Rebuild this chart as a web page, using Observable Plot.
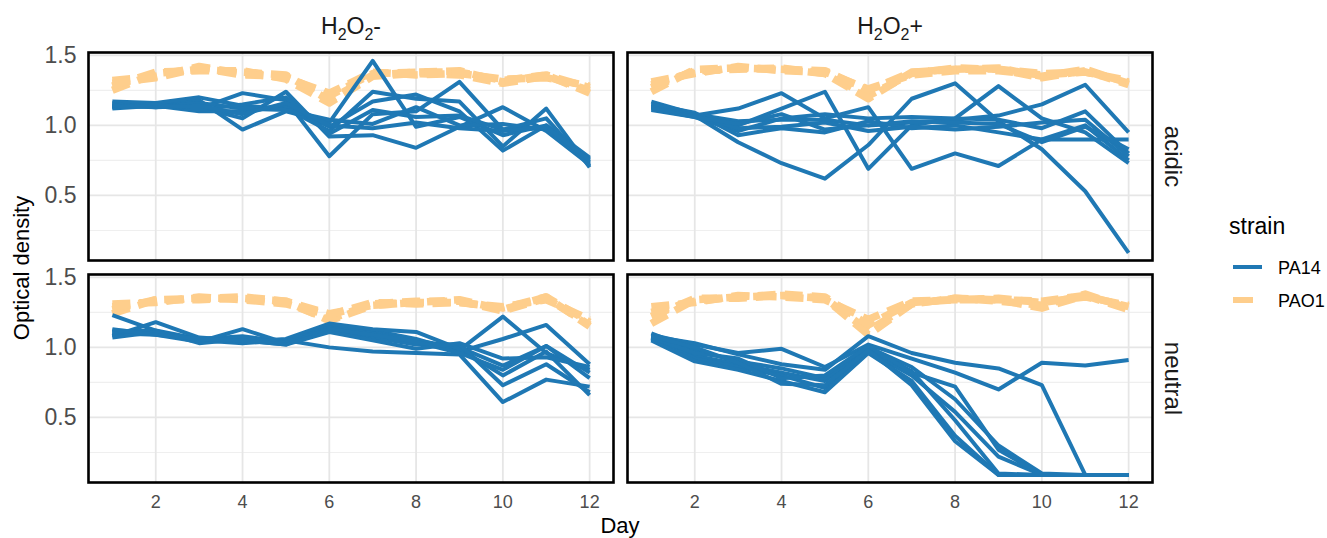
<!DOCTYPE html>
<html>
<head>
<meta charset="utf-8">
<script src="https://cdn.jsdelivr.net/npm/d3@7"></script>
<script src="https://cdn.jsdelivr.net/npm/@observablehq/plot@0.6"></script>
<style>
  body { margin: 0; background: #fff; }
  #wrap { position: relative; width: 1327px; height: 538px; font-family: "Liberation Sans", Arial, sans-serif; }
  #wrap svg { position: absolute; left: 0; top: 0; }
  .lab { position: absolute; white-space: nowrap; color: #000; line-height: 1; }
</style>
</head>
<body>
<div id="wrap"></div>
<script>
// ---------- data ----------
const days = [1, 2, 3, 4, 5, 6, 7, 8, 9, 10, 11, 12];
const treatments = ["H2O2-", "H2O2+"];
const conditions = ["acidic", "neutral"];
const strains = ["PA14", "PAO1"];
const xTicks = [2, 4, 6, 8, 10, 12];
const yTicks = [0.5, 1.0, 1.5];
const yMinor = [0.25, 0.75, 1.25];

const acidicMinusPA14 = [
  [1.16, 1.15, 1.18, 0.97, 1.10, 1.02, 1.46, 0.99, 1.06, 0.93, 1.00, 0.74],
  [1.13, 1.14, 1.12, 1.23, 1.18, 0.78, 1.08, 1.10, 1.31, 0.97, 0.98, 0.76],
  [1.14, 1.15, 1.13, 1.05, 1.24, 0.92, 0.93, 0.84, 0.99, 1.13, 0.96, 0.72],
  [1.17, 1.16, 1.20, 1.14, 1.12, 0.96, 1.24, 1.19, 1.17, 0.85, 1.12, 0.70],
  [1.12, 1.14, 1.10, 1.10, 1.14, 0.99, 1.17, 1.22, 1.10, 0.82, 1.00, 0.77],
  [1.15, 1.13, 1.16, 1.12, 1.11, 1.04, 1.01, 1.13, 1.00, 1.01, 0.97, 0.73],
  [1.13, 1.15, 1.11, 1.15, 1.20, 0.94, 1.11, 1.06, 1.07, 0.97, 1.05, 0.71],
  [1.14, 1.13, 1.14, 1.08, 1.16, 1.00, 0.98, 1.02, 0.98, 0.96, 0.99, 0.75]
];
const acidicMinusPAO1 = [
  [1.25, 1.37, 1.40, 1.38, 1.36, 1.18, 1.36, 1.38, 1.39, 1.31, 1.36, 1.23],
  [1.32, 1.35, 1.42, 1.37, 1.34, 1.23, 1.38, 1.36, 1.37, 1.33, 1.34, 1.28],
  [1.28, 1.38, 1.39, 1.39, 1.33, 1.16, 1.35, 1.37, 1.36, 1.30, 1.35, 1.25],
  [1.30, 1.34, 1.41, 1.36, 1.35, 1.21, 1.37, 1.38, 1.38, 1.32, 1.36, 1.27]
];
const acidicPlusPA14 = [
  [1.15, 1.07, 0.88, 0.73, 0.62, 0.86, 1.19, 1.30, 1.03, 0.83, 0.53, 0.09],
  [1.14, 1.08, 1.00, 1.12, 1.24, 0.69, 1.00, 1.05, 1.28, 1.05, 0.95, 0.73],
  [1.13, 1.07, 1.12, 1.23, 1.05, 1.13, 0.69, 0.80, 0.71, 0.90, 1.00, 0.75],
  [1.17, 1.08, 1.03, 1.04, 1.04, 1.00, 1.02, 1.04, 1.07, 1.15, 1.29, 0.95],
  [1.11, 1.06, 0.96, 1.05, 1.08, 1.05, 1.06, 1.05, 1.04, 0.98, 1.10, 0.80],
  [1.15, 1.09, 0.93, 0.98, 0.95, 1.03, 0.98, 1.00, 0.95, 0.90, 0.90, 0.90],
  [1.13, 1.07, 0.98, 0.99, 1.02, 0.96, 0.99, 0.97, 0.99, 1.02, 1.04, 0.78],
  [1.12, 1.06, 1.01, 1.08, 0.97, 1.00, 1.03, 1.02, 1.01, 0.88, 0.99, 0.83]
];
const acidicPlusPAO1 = [
  [1.24, 1.40, 1.41, 1.40, 1.37, 1.19, 1.38, 1.40, 1.41, 1.35, 1.40, 1.30],
  [1.31, 1.37, 1.42, 1.39, 1.38, 1.26, 1.36, 1.39, 1.39, 1.36, 1.38, 1.32],
  [1.27, 1.39, 1.40, 1.41, 1.37, 1.21, 1.37, 1.41, 1.40, 1.34, 1.39, 1.29],
  [1.29, 1.38, 1.41, 1.40, 1.39, 1.25, 1.38, 1.40, 1.40, 1.37, 1.38, 1.31]
];
const neutralMinusPA14 = [
  [1.23, 1.12, 1.06, 1.08, 1.04, 1.12, 1.08, 1.03, 0.98, 1.22, 0.96, 0.84],
  [1.08, 1.18, 1.07, 1.05, 1.02, 1.16, 1.12, 1.06, 0.97, 1.06, 1.16, 0.88],
  [1.10, 1.09, 1.04, 1.13, 1.03, 1.15, 1.10, 1.05, 1.00, 0.87, 1.01, 0.82],
  [1.12, 1.11, 1.05, 1.03, 1.05, 1.00, 0.97, 0.96, 0.95, 0.61, 0.77, 0.72],
  [1.09, 1.10, 1.06, 1.04, 1.06, 1.17, 1.13, 1.11, 0.99, 0.80, 0.97, 0.66],
  [1.11, 1.12, 1.03, 1.06, 1.04, 1.14, 1.07, 1.02, 1.02, 0.73, 0.88, 0.68],
  [1.07, 1.11, 1.05, 1.07, 1.03, 1.13, 1.09, 1.04, 0.96, 0.84, 1.01, 0.78],
  [1.13, 1.09, 1.06, 1.05, 1.02, 1.11, 1.05, 0.99, 1.03, 0.92, 0.93, 0.86]
];
const neutralMinusPAO1 = [
  [1.24, 1.34, 1.35, 1.35, 1.33, 1.19, 1.30, 1.32, 1.34, 1.27, 1.36, 1.15],
  [1.31, 1.32, 1.36, 1.34, 1.31, 1.23, 1.32, 1.31, 1.32, 1.29, 1.34, 1.20],
  [1.27, 1.34, 1.34, 1.35, 1.32, 1.20, 1.31, 1.33, 1.33, 1.26, 1.35, 1.16],
  [1.29, 1.33, 1.35, 1.36, 1.33, 1.24, 1.30, 1.32, 1.32, 1.28, 1.36, 1.18]
];
const neutralPlusPA14 = [
  [1.08, 1.03, 0.95, 0.88, 0.84, 1.08, 0.96, 0.89, 0.85, 0.73, 0.09, 0.09],
  [1.09, 1.02, 0.96, 0.99, 0.86, 1.02, 0.92, 0.82, 0.70, 0.89, 0.87, 0.91],
  [1.06, 0.94, 0.88, 0.82, 0.76, 1.00, 0.86, 0.63, 0.30, 0.10, 0.09, 0.09],
  [1.07, 0.92, 0.86, 0.80, 0.71, 0.97, 0.80, 0.54, 0.22, 0.09, 0.09, 0.09],
  [1.10, 0.98, 0.90, 0.85, 0.78, 0.99, 0.83, 0.48, 0.10, 0.09, 0.09, 0.09],
  [1.05, 0.90, 0.84, 0.76, 0.68, 0.96, 0.76, 0.37, 0.09, 0.09, 0.09, 0.09],
  [1.07, 0.96, 0.92, 0.78, 0.80, 1.01, 0.82, 0.72, 0.27, 0.09, 0.09, 0.09],
  [1.08, 1.00, 0.89, 0.74, 0.73, 0.98, 0.73, 0.33, 0.09, 0.09, 0.09, 0.09]
];
const neutralPlusPAO1 = [
  [1.17, 1.34, 1.36, 1.37, 1.35, 1.12, 1.31, 1.35, 1.34, 1.28, 1.37, 1.27],
  [1.29, 1.32, 1.37, 1.36, 1.34, 1.20, 1.33, 1.34, 1.35, 1.32, 1.36, 1.30],
  [1.22, 1.35, 1.35, 1.37, 1.35, 1.09, 1.31, 1.35, 1.33, 1.30, 1.38, 1.28],
  [1.25, 1.33, 1.36, 1.38, 1.36, 1.16, 1.32, 1.34, 1.34, 1.33, 1.37, 1.29]
];

// ---------- build table ----------
const rows = [];
function add(cond, trt, strain, series) {
  series.forEach((vals, i) => vals.forEach((v, j) =>
    rows.push({cond, trt, strain, rep: `${cond}|${trt}|${strain}|${i}`, day: days[j], od: v})));
}
add("acidic", "H2O2-", "PA14", acidicMinusPA14);
add("acidic", "H2O2-", "PAO1", acidicMinusPAO1);
add("acidic", "H2O2+", "PA14", acidicPlusPA14);
add("acidic", "H2O2+", "PAO1", acidicPlusPAO1);
add("neutral", "H2O2-", "PA14", neutralMinusPA14);
add("neutral", "H2O2-", "PAO1", neutralMinusPAO1);
add("neutral", "H2O2+", "PA14", neutralPlusPA14);
add("neutral", "H2O2+", "PAO1", neutralPlusPAO1);

const BLUE = "#1F78B4";
const ORANGE = "#FECE8C";
const FONT = "Liberation Sans, Arial, sans-serif";

const colStrip = treatments.map(t => ({trt: t, cond: conditions[0]}));
const rowStrip = conditions.map(c => ({trt: treatments[1], cond: c}));

const chart = Plot.plot({
  width: 1327,
  height: 538,
  marginLeft: 88,
  marginRight: 175,
  marginTop: 52,
  marginBottom: 56,
  style: {background: "transparent", fontFamily: FONT, overflow: "visible"},
  fx: {domain: treatments, paddingInner: 14 / 538, paddingOuter: 0, axis: null, label: null},
  fy: {domain: conditions, paddingInner: 14 / 222, paddingOuter: 0, axis: null, label: null},
  x: {domain: [0.45, 12.55], label: null, axis: null},
  y: {domain: [0.036, 1.52], label: null, axis: null},
  color: {domain: strains, range: [BLUE, ORANGE]},
  marks: [
    Plot.ruleY(yMinor, {stroke: "#EFEFEF", strokeWidth: 1.1}),
    Plot.ruleY(yTicks, {stroke: "#E6E6E6", strokeWidth: 1.8}),
    Plot.ruleX(xTicks, {stroke: "#E6E6E6", strokeWidth: 1.8}),
    Plot.line(rows.filter(d => d.strain === "PAO1"), {
      x: "day", y: "od", z: "rep", fx: "trt", fy: "cond", stroke: "strain",
      strokeWidth: 7.5, strokeDasharray: "18,9", strokeLinecap: "butt", strokeLinejoin: "round"
    }),
    Plot.line(rows.filter(d => d.strain === "PA14"), {
      x: "day", y: "od", z: "rep", fx: "trt", fy: "cond", stroke: "strain",
      strokeWidth: 4, strokeLinecap: "butt", strokeLinejoin: "round"
    }),
    Plot.frame({stroke: "#000", strokeWidth: 2.6}),
    Plot.axisX({anchor: "bottom", ticks: xTicks, tickSize: 0, tickPadding: 13, fontSize: 18, color: "#4D4D4D", label: null}),
    Plot.axisY({anchor: "left", ticks: yTicks, tickSize: 0, tickPadding: 12, fontSize: 23, color: "#4D4D4D", tickFormat: d3.format(".1f"), label: null}),
    Plot.text(colStrip, {fx: "trt", fy: "cond", text: "trt", frameAnchor: "top", textAnchor: "middle", dy: -35, fontSize: 23, fill: "#1A1A1A"}),
    Plot.text(rowStrip, {fx: "trt", fy: "cond", text: "cond", frameAnchor: "right", textAnchor: "middle", dx: 20, rotate: 90, fontSize: 24, fill: "#1A1A1A"})
  ]
});

// subscripts for the H2O2 strip labels
chart.querySelectorAll("text").forEach(t => {
  const m = /^H2O2([+-])$/.exec(t.textContent);
  if (m) {
    t.innerHTML = `H<tspan font-size="16" dy="6">2</tspan><tspan dy="-6">O</tspan><tspan font-size="16" dy="6">2</tspan><tspan dy="-6">${m[1]}</tspan>`;
  }
});

const wrap = document.getElementById("wrap");
wrap.appendChild(chart);

function label(text, css) {
  const d = document.createElement("div");
  d.className = "lab";
  d.textContent = text;
  Object.assign(d.style, css);
  wrap.appendChild(d);
  return d;
}
// axis titles
label("Day", {left: "620px", top: "526px", fontSize: "22px", transform: "translate(-50%,-50%)"});
label("Optical density", {left: "22px", top: "268px", fontSize: "22px", transform: "translate(-50%,-50%) rotate(-90deg)"});
// legend
label("strain", {left: "1229px", top: "226px", fontSize: "23px", transform: "translateY(-50%)"});
const sw1 = document.createElement("div");
Object.assign(sw1.style, {position: "absolute", left: "1233px", top: "265px", width: "29px", height: "4px", background: BLUE});
wrap.appendChild(sw1);
const sw2 = document.createElement("div");
Object.assign(sw2.style, {position: "absolute", left: "1233px", top: "297px", width: "20px", height: "6px", background: ORANGE});
wrap.appendChild(sw2);
label(strains[0], {left: "1278px", top: "268px", fontSize: "18px", transform: "translateY(-50%)"});
label(strains[1], {left: "1278px", top: "301px", fontSize: "18px", transform: "translateY(-50%)"});
</script>
</body>
</html>
